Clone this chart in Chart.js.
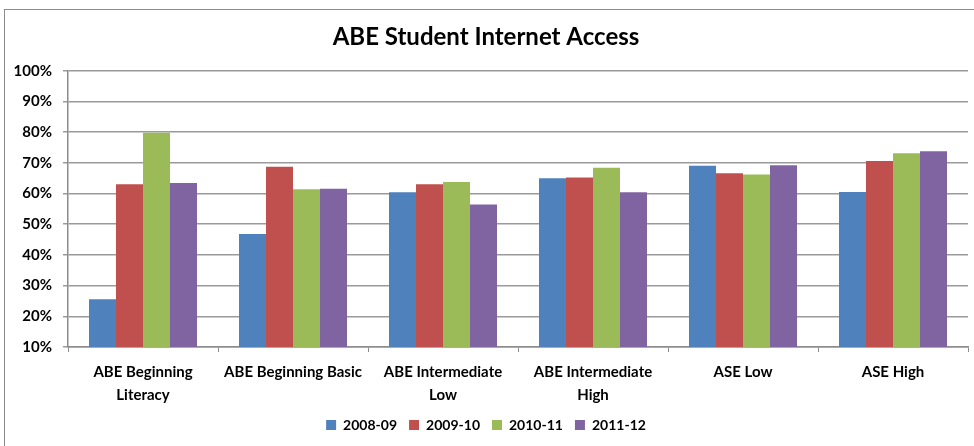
<!DOCTYPE html>
<html>
<head>
<meta charset="utf-8">
<script src="https://cdn.jsdelivr.net/npm/chart.js@4/dist/chart.umd.min.js"></script>
<style>
  html, body { margin: 0; padding: 0; background: #fff; }
  #wrap { position: relative; width: 974px; height: 446px; }
  #frame { position: absolute; left: 4px; top: 9px; right: -4px; bottom: -4px; border-left: 1px solid #8c8c8c; border-top: 1px solid #8c8c8c; }
  canvas { position: absolute; left: 0; top: 0; }
</style>
</head>
<body>
<div id="wrap">
  <div id="frame"></div>
  <canvas id="bar_chart" width="974" height="446"></canvas>
</div>
<script>
var categories = [["ABE Beginning", "Literacy"], "ABE Beginning Basic", ["ABE Intermediate", "Low"], ["ABE Intermediate", "High"], "ASE Low", "ASE High"];
var years = ["2008-09", "2009-10", "2010-11", "2011-12"];
var y2008 = [25.6, 46.8, 60.4, 65.0, 69.1, 60.5];
var y2009 = [63.0, 68.7, 63.0, 65.2, 66.6, 70.6];
var y2010 = [79.8, 61.4, 63.8, 68.4, 66.2, 73.1];
var y2011 = [63.4, 61.6, 56.4, 60.4, 69.2, 73.8];
var colors = ['#4F81BD', '#C0504D', '#9BBB59', '#8064A2'];

var font = "Lato, 'Liberation Sans', sans-serif";

new Chart(document.getElementById("bar_chart").getContext("2d"), {
    type: 'bar',
    data: {
        labels: categories,
        datasets: [y2008, y2009, y2010, y2011].map(function (d, i) {
            return {
                label: years[i],
                data: d,
                backgroundColor: colors[i],
                barPercentage: 1.0,
                categoryPercentage: 0.72
            };
        })
    },
    options: {
        responsive: false,
        animation: false,
        layout: { padding: { left: 4, right: 6, top: 9, bottom: 4 } },
        plugins: {
            title: {
                display: true,
                text: 'ABE Student Internet Access',
                color: '#000',
                font: { family: font, size: 24, weight: 'bold' },
                padding: { top: 14, bottom: 19 }
            },
            legend: {
                position: 'bottom',
                labels: {
                    color: '#000',
                    font: { family: font, size: 14, weight: 'bold' },
                    boxWidth: 10,
                    boxHeight: 10,
                    padding: 12
                }
            },
            tooltip: { enabled: false }
        },
        scales: {
            x: {
                ticks: {
                    color: '#000',
                    font: { family: font, size: 15, weight: 'bold', lineHeight: 1.5 },
                    maxRotation: 0,
                    autoSkip: false,
                    padding: 9
                },
                grid: { drawOnChartArea: false, color: '#8c8c8c', tickLength: 5, lineWidth: 1 },
                border: { color: '#8c8c8c', width: 1.5 },
                afterFit: function (scale) { scale.height = 59; }
            },
            y: {
                min: 10,
                max: 100,
                ticks: {
                    stepSize: 10,
                    color: '#000',
                    font: { family: font, size: 15, weight: 'bold' },
                    padding: 11,
                    callback: function (v) { return v + '%'; }
                },
                grid: { color: '#9a9a9a', lineWidth: 1.5, tickLength: 5 },
                border: { color: '#8c8c8c', width: 1.5 },
                afterFit: function (scale) { scale.width = 64; }
            }
        }
    }
});
</script>
</body>
</html>
